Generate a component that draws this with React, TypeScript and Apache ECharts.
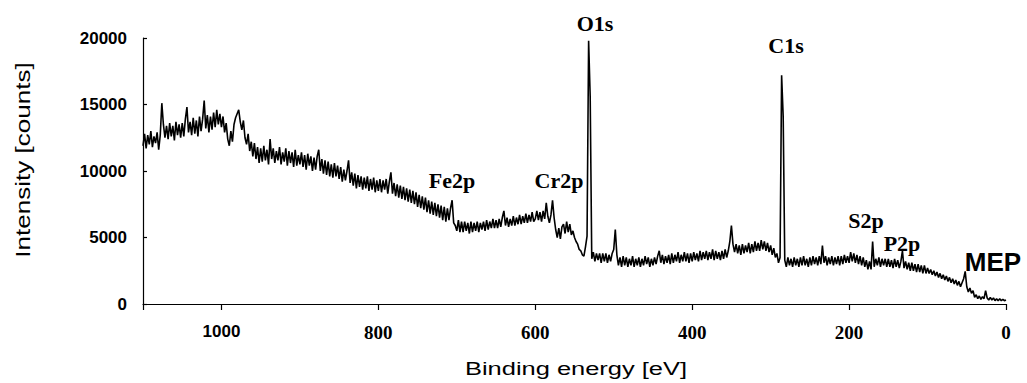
import React, { useEffect, useRef } from "react";
import * as echarts from "echarts";

// Binding energy grid of the survey scan (eV), from 1100 eV down to 0 eV
const E_START = 1100;
const E_STEP = 2;

// Intensity [counts], one value per energy step
const intensity: number[] = [
  // 1100 .. 1052
  11900, 12800, 11700, 12700, 12000, 13000, 11800, 12600, 12100, 12900, 11600, 12700, 15100, 13500, 12500, 13400, 12400, 13600, 12600, 13400, 12300, 13700, 12700, 13500, 12500,
  // 1050 .. 1002
  13600, 12600, 13900, 14800, 12900, 13700, 12700, 14000, 12800, 13800, 12600, 14100, 13000, 13900, 15300, 13200, 14200, 12900, 14100, 13100, 14400, 13300, 14600, 13500, 14300,
  // 1000 .. 952
  13300, 14100, 12900, 13600, 12400, 11900, 13000, 12200, 13500, 14000, 14300, 14600, 13700, 13100, 13800, 12500, 12000, 12800, 11500, 12200, 11100, 12100, 10900, 11800, 10600,
  // 950 .. 902
  11700, 10700, 11900, 10800, 11600, 10500, 12400, 10900, 11700, 10600, 11500, 10800, 11800, 10500, 11400, 10700, 11700, 10400, 11500, 10600, 11400, 10300, 11600, 10400, 11200,
  // 900 .. 852
  10500, 11400, 10300, 11200, 10100, 11300, 10400, 11100, 10000, 11000, 10100, 11100, 11600, 10000, 10900, 9800, 10800, 9700, 10700, 9600, 10500, 9500, 10600, 9600, 10400,
  // 850 .. 802
  9400, 10300, 9200, 10100, 9300, 10000, 10800, 9100, 9900, 8900, 9800, 8700, 9700, 8800, 9600, 8600, 9500, 8700, 9600, 8500, 9400, 8600, 9500, 8400, 9300,
  // 800 .. 752
  8500, 9400, 8400, 9300, 8600, 9400, 8300, 9200, 9900, 8300, 9100, 8100, 9000, 8000, 8900, 7900, 8800, 7800, 8700, 7700, 8600, 7600, 8500, 7500, 8400,
  // 750 .. 702
  7300, 8200, 7200, 8100, 7100, 8000, 6900, 7800, 6800, 7700, 6700, 7600, 6600, 7500, 6500, 7400, 6300, 7300, 6200, 7200, 6300, 7200, 7800, 6100, 5900,
  // 700 .. 652
  5500, 6300, 5400, 6200, 5400, 6200, 5500, 6100, 5300, 6200, 5400, 6100, 5500, 6200, 5400, 6100, 5600, 6200, 5500, 6300, 5600, 6200, 5700, 6400, 5700,
  // 650 .. 602
  6300, 5700, 6400, 5800, 6500, 7000, 5900, 6500, 5800, 6400, 5900, 6600, 5900, 6500, 6000, 6700, 6000, 6600, 6100, 6800, 6100, 6700, 6200, 6900, 6200,
  // 600 .. 552
  6400, 7000, 6300, 6900, 6200, 7000, 6400, 7600, 6600, 6100, 6700, 7800, 6500, 5600, 5000, 5700, 4900, 5800, 6000, 5300, 6200, 5400, 6000, 5200, 5500,
  // 550 .. 502
  5000, 4700, 4500, 4100, 4000, 3700, 3600, 4300, 5100, 19800, 15600, 3400, 3900, 3200, 3800, 3300, 3800, 3100, 3800, 3200, 3800, 3100, 3700, 3200, 3800,
  // 500 .. 452
  4100, 5600, 3700, 2900, 3500, 2800, 3600, 2900, 3500, 2800, 3400, 2900, 3600, 2800, 3400, 2900, 3500, 2800, 3400, 2900, 3600, 3000, 3500, 2800, 3400,
  // 450 .. 402
  2900, 3500, 3000, 3600, 4000, 3100, 3700, 3000, 3600, 3100, 3700, 3000, 3800, 3100, 3700, 3200, 3900, 3100, 3700, 3200, 3900, 3200, 3800, 3100, 3800,
  // 400 .. 352
  3200, 3900, 3300, 3800, 3200, 4000, 3300, 3900, 3400, 4000, 3300, 3900, 3400, 4100, 3300, 4000, 3400, 3900, 3300, 4000, 3400, 4100, 3500, 4000, 4700,
  // 350 .. 302
  5900, 4500, 3900, 4500, 3800, 4400, 3700, 4500, 3800, 4400, 3900, 4600, 3800, 4500, 3900, 4700, 4000, 4600, 4000, 4800, 4100, 4700, 4000, 4600, 3900,
  // 300 .. 252
  4400, 3700, 4200, 3500, 3800, 3100, 3500, 17200, 14100, 3300, 2800, 3500, 2900, 3400, 2800, 3500, 2900, 3400, 2800, 3500, 2900, 3600, 2900, 3400, 2800,
  // 250 .. 202
  3500, 2900, 3600, 3000, 3500, 2900, 3600, 3000, 4400, 3100, 3600, 2900, 3500, 3000, 3600, 2900, 3500, 3000, 3600, 2900, 3600, 3000, 3700, 3100, 3600,
  // 200 .. 152
  3100, 3900, 3200, 3800, 3100, 3700, 3000, 3600, 2900, 3500, 2800, 3300, 2600, 3200, 2600, 4700, 2800, 3400, 2900, 3500, 2800, 3400, 2900, 3400, 2800,
  // 150 .. 102
  3400, 2800, 3300, 2700, 3400, 2800, 3300, 2700, 3200, 4000, 2700, 3200, 2600, 3100, 2500, 3100, 2500, 3000, 2400, 3000, 2400, 2900, 2300, 2900, 2300,
  // 100 .. 52
  2700, 2300, 2600, 2200, 2500, 2100, 2400, 2000, 2300, 1900, 2200, 1800, 2100, 1700, 2000, 1600, 1900, 1500, 1800, 1400, 1700, 1300, 1600, 1900, 2450,
  // 50 .. 0
  1300, 900, 1200, 800, 1000, 500, 700, 400, 600, 350, 550, 400, 1000, 450, 300, 500, 300, 450, 250, 400, 250, 400, 250, 350, 250, 300,
];

// Axis ranges / ticks
const X_MIN = 0;
const X_MAX = 1100;
const X_INTERVAL = 200;
const Y_MIN = 0;
const Y_MAX = 20000;
const Y_INTERVAL = 5000;

// Texts
const xTitle = "Binding energy [eV]";
const yTitle = "Intensity [counts]";
const peakNames = ["O1s", "C1s", "Fe2p", "Cr2p", "S2p", "P2p"];
const sampleName = "MEP";

export default function App() {
  const ref = useRef<HTMLDivElement>(null);

  useEffect(() => {
    if (!ref.current) return;
    const chart = echarts.init(ref.current, undefined, { renderer: "svg" });

    const data = intensity.map((v, i) => [E_START - i * E_STEP, v]);

    const peakPos: Record<string, [number, number]> = {
      O1s: [595, 23],
      C1s: [786, 45],
      Fe2p: [452, 180],
      Cr2p: [559, 180],
      S2p: [866, 220],
      P2p: [902, 243],
    };

    const serif = "'Liberation Serif', 'Times New Roman', serif";
    const sans = "'Liberation Sans', Arial, sans-serif";

    const graphic: any[] = [
      {
        type: "text",
        x: 576,
        y: 369,
        scaleX: 1.34,
        style: {
          text: xTitle,
          font: `19px ${sans}`,
          fill: "#000",
          align: "center",
          verticalAlign: "middle",
        },
      },
      {
        type: "text",
        x: 23,
        y: 160,
        rotation: Math.PI / 2,
        scaleX: 1.24,
        style: {
          text: yTitle,
          font: `21px ${sans}`,
          fill: "#000",
          align: "center",
          verticalAlign: "middle",
        },
      },
      ...peakNames.map((n) => ({
        type: "text",
        x: peakPos[n][0],
        y: peakPos[n][1],
        style: {
          text: n,
          font: `bold 22px ${serif}`,
          fill: "#000",
          align: "center",
          verticalAlign: "middle",
        },
      })),
      {
        type: "text",
        x: 993,
        y: 262,
        style: {
          text: sampleName,
          font: `bold 26px ${sans}`,
          fill: "#000",
          align: "center",
          verticalAlign: "middle",
        },
      },
    ];

    chart.setOption({
      animation: false,
      backgroundColor: "#fff",
      grid: { left: 143, right: 21, top: 38, bottom: 79, containLabel: false },
      xAxis: {
        type: "value",
        inverse: true,
        min: X_MIN,
        max: X_MAX,
        interval: X_INTERVAL,
        splitLine: { show: false },
        axisLine: { show: true, onZero: false, lineStyle: { color: "#000", width: 1.2 } },
        axisTick: { show: true, inside: false, length: 6, lineStyle: { color: "#000", width: 1.2 } },
        axisLabel: {
          margin: 19,
          color: "#000",
          formatter: (v: number) =>
            v === X_MAX ? "" : v === 1000 ? `{s|${v}}` : `{t|${v}}`,
          rich: {
            s: { fontFamily: sans, fontWeight: "bold", fontSize: 17, color: "#000" },
            t: { fontFamily: serif, fontWeight: "bold", fontSize: 19, color: "#000" },
          },
        },
      },
      yAxis: {
        type: "value",
        position: "left",
        min: Y_MIN,
        max: Y_MAX,
        interval: Y_INTERVAL,
        splitLine: { show: false },
        axisLine: { show: true, onZero: false, lineStyle: { color: "#000", width: 1.2 } },
        axisTick: { show: true, inside: true, length: 4, lineStyle: { color: "#000", width: 1.2 } },
        axisLabel: {
          margin: 16,
          color: "#000",
          fontFamily: sans,
          fontWeight: "bold",
          fontSize: 17,
          formatter: (v: number) => String(v),
        },
      },
      series: [
        {
          type: "line",
          data,
          showSymbol: false,
          symbol: "none",
          lineStyle: { color: "#000", width: 1.6 },
          z: 3,
        },
      ],
      graphic,
    });

    return () => chart.dispose();
  }, []);

  return (
    <div
      ref={ref}
      style={{ position: "absolute", left: 0, top: 0, width: 1027, height: 383 }}
    />
  );
}
